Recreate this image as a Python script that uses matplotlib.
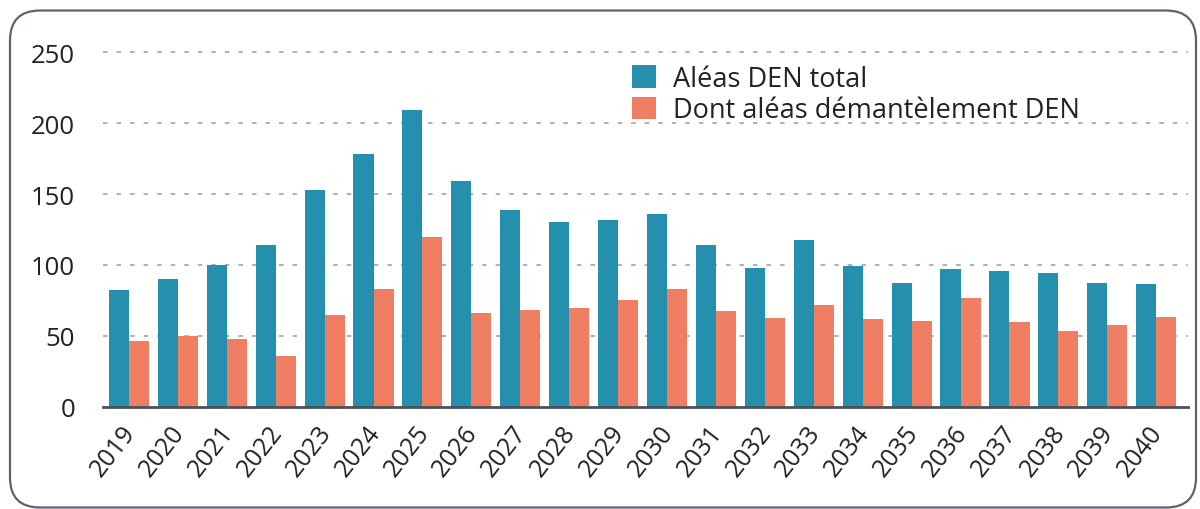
import matplotlib
matplotlib.use("Agg")
import matplotlib.pyplot as plt
from matplotlib.patches import FancyBboxPatch, Patch
import matplotlib.transforms as mtransforms
import numpy as np

years = [str(y) for y in range(2019, 2041)]
total = [82, 90, 100, 114, 153, 178, 209, 159, 139, 130.5, 132, 136,
         114, 98, 117.5, 99, 87, 97, 95.5, 94, 87, 86.5]
demant = [46, 50, 47.5, 35.5, 64.5, 83, 120, 66, 68, 69.5, 75.5, 83,
          67.5, 62.5, 72, 62, 60.5, 77, 59.5, 53.5, 57.5, 63.5]
labels = ["Aléas DEN total", "Dont aléas démantèlement DEN"]
yticks = [0, 50, 100, 150, 200, 250]

BLUE = "#2490ad"
ORANGE = "#f07e62"
TXT = "#222222"

plt.rcParams['font.family'] = ['Open Sans', 'DejaVu Sans']

fig = plt.figure(figsize=(12, 5.1), dpi=100)
ax = fig.add_axes([103/1200, 102.3/510, (1188-103)/1200, (407.7-53.3)/510])

x = np.arange(len(years))
w = 0.41
ax.bar(x - w/2, total, width=w, color=BLUE, zorder=3)
ax.bar(x + w/2, demant, width=w, color=ORANGE, zorder=3)

ax.set_xlim(-0.53, 21.65)
ax.set_ylim(0, 250)
ax.set_yticks(yticks)
ax.set_yticklabels([str(v) for v in yticks], fontsize=18.5, color=TXT)
ax.tick_params(axis='y', length=0, pad=20)
ax.set_xticks(x)
ax.set_xticklabels(years, rotation=52, ha='right', va='center', rotation_mode='anchor',
                   fontsize=18, color=TXT)
ax.tick_params(axis='x', length=0, pad=15)
offset = mtransforms.ScaledTranslation(2/100, 0, fig.dpi_scale_trans)
for lab in ax.get_xticklabels():
    lab.set_transform(lab.get_transform() + offset)

for v in yticks[1:]:
    ax.axhline(v, color="#a7abb2", lw=1.3, ls=(0, (2.5, 5)), zorder=1, clip_on=False)

for s in ['top', 'right', 'left']:
    ax.spines[s].set_visible(False)
ax.spines['bottom'].set_color("#4b505a")
ax.spines['bottom'].set_linewidth(2)
ax.spines['bottom'].set_zorder(4)

handles = [Patch(facecolor=BLUE), Patch(facecolor=ORANGE)]
leg = ax.legend(handles, labels, loc='upper left', bbox_to_anchor=(613/1200, 463/510),
                bbox_transform=fig.transFigure, frameon=False, fontsize=19.5,
                handlelength=0.9, handleheight=0.9, handletextpad=0.6,
                labelspacing=0.12, borderpad=0.2)
for t in leg.get_texts():
    t.set_color(TXT)

frame = FancyBboxPatch((10/1200, 1.5/510), 1186/1200, 497/510,
                       boxstyle="round,pad=0,rounding_size=0.025",
                       transform=fig.transFigure, fill=False,
                       edgecolor="#5d6270", lw=1.6, mutation_aspect=1200/510)
fig.patches.append(frame)

fig.savefig("out.png", dpi=100)
